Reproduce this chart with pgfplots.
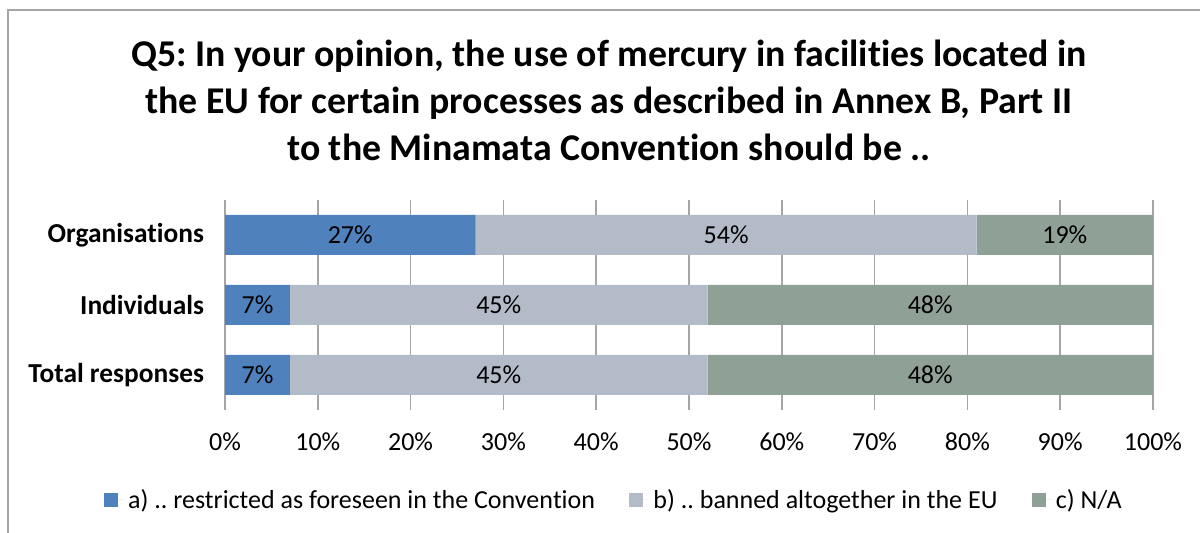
\documentclass[border=0pt]{standalone}
\usepackage{pgfplots}
\pgfplotsset{compat=1.18}
\usepackage{fontspec}
\setmainfont{Carlito}[RawFeature={-liga;-clig;-dlig;-calt}]
\definecolor{cA}{RGB}{79,129,189}
\definecolor{cB}{RGB}{180,187,200}
\definecolor{cC}{RGB}{143,160,150}
\definecolor{frameg}{RGB}{165,165,165}
\frenchspacing
\begin{document}
\begin{tikzpicture}[x=1pt,y=1pt]
\path[use as bounding box] (0,0) rectangle (600,266.5);
\draw[frameg, line width=0.8pt] (4,0) -- (4,261.5) -- (600,261.5);
\node[font=\bfseries\fontsize{18.9}{23.5}\selectfont, align=center] at (304.5,216.5)
  {Q5: In your opinion, the use of mercury in facilit\kern0pt ies located in\\
   the EU for certain processes as described in Annex B, Part II\\
   to the Minamata Conven\kern0pt tion should be ..};
\begin{axis}[
  at={(112.5pt,61.5pt)}, anchor=south west,
  scale only axis, width=464pt, height=105pt,
  xbar stacked, bar width=20pt,
  xmin=0, xmax=100, ymin=-0.5, ymax=2.5,
  ytick={0,1,2},
  yticklabels={Total responses, Individuals, Organisations},
  yticklabel style={font=\bfseries\fontsize{13.7}{15}\selectfont, xshift=-7pt},
  xtick={0,10,...,100},
  xticklabel={\pgfmathprintnumber{\tick}\%},
  xticklabel style={font=\fontsize{13}{15}\selectfont, yshift=-8pt},
  /pgf/number format/assume math mode=true,
  axis line style={draw=none},
  major tick length=0pt,
  xmajorgrids, major grid style={frameg, line width=0.75pt},
  point meta=explicit,
  nodes near coords={\pgfmathprintnumber{\pgfplotspointmeta}\%},
  every node near coord/.append style={font=\fontsize{13}{15}\selectfont, black},
  legend columns=3,
  legend style={at={(0.42,-0.4286)}, anchor=center, draw=none,
    font=\fontsize{13}{15}\selectfont,
    /tikz/every even column/.append style={column sep=15pt}},
  legend image code/.code={\fill[#1,draw=none] (0pt,-3.6pt) rectangle (7.2pt,3.6pt);
    \path (0pt,0pt) -- (10.2pt,0pt);},
]
\addplot[fill=cA, draw=none] coordinates {(27,2) [27] (7,1) [7] (7,0) [7]};
\addplot[fill=cB, draw=none] coordinates {(54,2) [54] (45,1) [45] (45,0) [45]};
\addplot[fill=cC, draw=none] coordinates {(19,2) [19] (48,1) [48] (48,0) [48]};
\legend{a) .. restricted as foreseen in the Conven\kern0pt tion, b) .. banned altogether in the EU, c) N/A}
\end{axis}
\end{tikzpicture}
\end{document}
